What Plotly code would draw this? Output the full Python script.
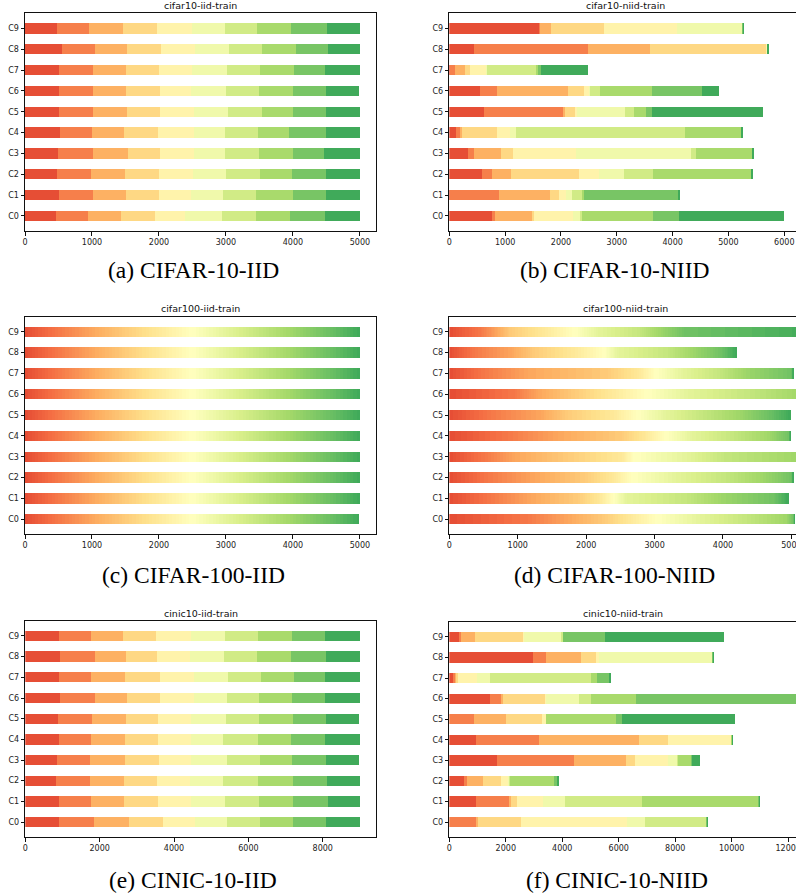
import plotly.graph_objects as go

W, H = 796, 894

CLIENTS = ["C0", "C1", "C2", "C3", "C4", "C5", "C6", "C7", "C8", "C9"]

# rows = clients C0..C9, columns = class index
CIFAR10_IID = [
    [463, 477, 493, 507, 448, 552, 508, 507, 523, 522],
    [507, 508, 492, 493, 478, 477, 493, 552, 492, 508],
    [478, 507, 508, 507, 507, 493, 507, 478, 507, 508],
    [493, 522, 522, 478, 507, 463, 507, 508, 463, 537],
    [522, 478, 478, 507, 537, 463, 493, 462, 552, 508],
    [507, 508, 507, 493, 507, 508, 507, 463, 492, 508],
    [507, 508, 492, 508, 463, 522, 492, 508, 492, 493],
    [507, 508, 492, 493, 488, 527, 492, 508, 463, 522],
    [552, 493, 477, 508, 507, 508, 492, 508, 477, 478],
    [473, 482, 508, 507, 518, 497, 478, 507, 537, 493],
]

CIFAR10_NIID = [
    [764, 54, 663, 36, 698, 143, 18, 1272, 466, 1880],
    [12, 878, 913, 161, 125, 107, 197, 18, 1701, 12],
    [585, 179, 340, 1218, 358, 448, 519, 1773, 3, 9],
    [334, 107, 484, 215, 1128, 2060, 90, 1021, 3, 9],
    [119, 72, 36, 627, 233, 107, 3027, 1021, 3, 9],
    [621, 1433, 10, 205, 10, 877, 161, 215, 90, 1988],
    [549, 305, 1271, 287, 107, 10, 169, 932, 895, 305],
    [12, 88, 181, 89, 305, 5, 896, 30, 30, 845],
    [442, 2042, 1110, 2101, 2, 1, 3, 2, 2, 15],
    [1612, 13, 196, 949, 1308, 1182, 3, 2, 4, 15],
]

CIFAR100_IID = [
    [50, 50, 50, 50, 50, 50, 50, 50, 50, 50, 50, 50, 50, 50, 50, 50, 50, 50, 50, 50, 50, 50, 50, 50, 50, 50, 50, 50, 50, 50, 50, 50, 50, 50, 50, 50, 50, 50, 50, 50, 50, 50, 50, 50, 50, 50, 50, 50, 50, 50, 50, 50, 50, 50, 50, 50, 50, 50, 50, 50, 50, 50, 50, 50, 50, 50, 50, 50, 50, 50, 50, 50, 50, 50, 50, 50, 50, 50, 50, 50, 50, 50, 50, 50, 50, 50, 50, 50, 50, 50, 50, 50, 50, 50, 50, 50, 50, 50, 50, 35],
    [50, 50, 50, 50, 50, 50, 50, 50, 50, 50, 50, 50, 50, 50, 50, 50, 50, 50, 50, 50, 50, 50, 50, 50, 50, 50, 50, 50, 50, 50, 50, 50, 50, 50, 50, 50, 50, 50, 50, 50, 50, 50, 50, 50, 50, 50, 50, 50, 50, 50, 50, 50, 50, 50, 50, 50, 50, 50, 50, 50, 50, 50, 50, 50, 50, 50, 50, 50, 50, 50, 50, 50, 50, 50, 50, 50, 50, 50, 50, 50, 50, 50, 50, 50, 50, 50, 50, 50, 50, 50, 50, 50, 50, 50, 50, 50, 50, 50, 50, 50],
    [50, 50, 50, 50, 50, 50, 50, 50, 50, 50, 50, 50, 50, 50, 50, 50, 50, 50, 50, 50, 50, 50, 50, 50, 50, 50, 50, 50, 50, 50, 50, 50, 50, 50, 50, 50, 50, 50, 50, 50, 50, 50, 50, 50, 50, 50, 50, 50, 50, 50, 50, 50, 50, 50, 50, 50, 50, 50, 50, 50, 50, 50, 50, 50, 50, 50, 50, 50, 50, 50, 50, 50, 50, 50, 50, 50, 50, 50, 50, 50, 50, 50, 50, 50, 50, 50, 50, 50, 50, 50, 50, 50, 50, 50, 50, 50, 50, 50, 50, 50],
    [50, 50, 50, 50, 50, 50, 50, 50, 50, 50, 50, 50, 50, 50, 50, 50, 50, 50, 50, 50, 50, 50, 50, 50, 50, 50, 50, 50, 50, 50, 50, 50, 50, 50, 50, 50, 50, 50, 50, 50, 50, 50, 50, 50, 50, 50, 50, 50, 50, 50, 50, 50, 50, 50, 50, 50, 50, 50, 50, 50, 50, 50, 50, 50, 50, 50, 50, 50, 50, 50, 50, 50, 50, 50, 50, 50, 50, 50, 50, 50, 50, 50, 50, 50, 50, 50, 50, 50, 50, 50, 50, 50, 50, 50, 50, 50, 50, 50, 50, 50],
    [50, 50, 50, 50, 50, 50, 50, 50, 50, 50, 50, 50, 50, 50, 50, 50, 50, 50, 50, 50, 50, 50, 50, 50, 50, 50, 50, 50, 50, 50, 50, 50, 50, 50, 50, 50, 50, 50, 50, 50, 50, 50, 50, 50, 50, 50, 50, 50, 50, 50, 50, 50, 50, 50, 50, 50, 50, 50, 50, 50, 50, 50, 50, 50, 50, 50, 50, 50, 50, 50, 50, 50, 50, 50, 50, 50, 50, 50, 50, 50, 50, 50, 50, 50, 50, 50, 50, 50, 50, 50, 50, 50, 50, 50, 50, 50, 50, 50, 50, 50],
    [50, 50, 50, 50, 50, 50, 50, 50, 50, 50, 50, 50, 50, 50, 50, 50, 50, 50, 50, 50, 50, 50, 50, 50, 50, 50, 50, 50, 50, 50, 50, 50, 50, 50, 50, 50, 50, 50, 50, 50, 50, 50, 50, 50, 50, 50, 50, 50, 50, 50, 50, 50, 50, 50, 50, 50, 50, 50, 50, 50, 50, 50, 50, 50, 50, 50, 50, 50, 50, 50, 50, 50, 50, 50, 50, 50, 50, 50, 50, 50, 50, 50, 50, 50, 50, 50, 50, 50, 50, 50, 50, 50, 50, 50, 50, 50, 50, 50, 50, 50],
    [50, 50, 50, 50, 50, 50, 50, 50, 50, 50, 50, 50, 50, 50, 50, 50, 50, 50, 50, 50, 50, 50, 50, 50, 50, 50, 50, 50, 50, 50, 50, 50, 50, 50, 50, 50, 50, 50, 50, 50, 50, 50, 50, 50, 50, 50, 50, 50, 50, 50, 50, 50, 50, 50, 50, 50, 50, 50, 50, 50, 50, 50, 50, 50, 50, 50, 50, 50, 50, 50, 50, 50, 50, 50, 50, 50, 50, 50, 50, 50, 50, 50, 50, 50, 50, 50, 50, 50, 50, 50, 50, 50, 50, 50, 50, 50, 50, 50, 50, 50],
    [50, 50, 50, 50, 50, 50, 50, 50, 50, 50, 50, 50, 50, 50, 50, 50, 50, 50, 50, 50, 50, 50, 50, 50, 50, 50, 50, 50, 50, 50, 50, 50, 50, 50, 50, 50, 50, 50, 50, 50, 50, 50, 50, 50, 50, 50, 50, 50, 50, 50, 50, 50, 50, 50, 50, 50, 50, 50, 50, 50, 50, 50, 50, 50, 50, 50, 50, 50, 50, 50, 50, 50, 50, 50, 50, 50, 50, 50, 50, 50, 50, 50, 50, 50, 50, 50, 50, 50, 50, 50, 50, 50, 50, 50, 50, 50, 50, 50, 50, 50],
    [50, 50, 50, 50, 50, 50, 50, 50, 50, 50, 50, 50, 50, 50, 50, 50, 50, 50, 50, 50, 50, 50, 50, 50, 50, 50, 50, 50, 50, 50, 50, 50, 50, 50, 50, 50, 50, 50, 50, 50, 50, 50, 50, 50, 50, 50, 50, 50, 50, 50, 50, 50, 50, 50, 50, 50, 50, 50, 50, 50, 50, 50, 50, 50, 50, 50, 50, 50, 50, 50, 50, 50, 50, 50, 50, 50, 50, 50, 50, 50, 50, 50, 50, 50, 50, 50, 50, 50, 50, 50, 50, 50, 50, 50, 50, 50, 50, 50, 50, 50],
    [50, 50, 50, 50, 50, 50, 50, 50, 50, 50, 50, 50, 50, 50, 50, 50, 50, 50, 50, 50, 50, 50, 50, 50, 50, 50, 50, 50, 50, 50, 50, 50, 50, 50, 50, 50, 50, 50, 50, 50, 50, 50, 50, 50, 50, 50, 50, 50, 50, 50, 50, 50, 50, 50, 50, 50, 50, 50, 50, 50, 50, 50, 50, 50, 50, 50, 50, 50, 50, 50, 50, 50, 50, 50, 50, 50, 50, 50, 50, 50, 50, 50, 50, 50, 50, 50, 50, 50, 50, 50, 50, 50, 50, 50, 50, 50, 50, 50, 50, 50],
]

CIFAR100_NIID = [
    [115, 115, 115, 115, 115, 115, 115, 115, 115, 115, 59, 59, 59, 59, 59, 59, 59, 59, 59, 59, 54, 54, 54, 54, 54, 54, 54, 54, 54, 54, 37, 37, 37, 37, 37, 37, 37, 37, 37, 37, 39, 39, 39, 39, 39, 39, 39, 39, 39, 39, 63, 63, 63, 63, 63, 63, 63, 63, 63, 63, 68, 68, 68, 68, 68, 68, 68, 68, 68, 68, 59, 59, 59, 59, 59, 59, 59, 59, 59, 59, 10, 10, 10, 10, 10, 10, 10, 10, 10, 10, 1, 1, 1, 1, 1, 1, 1, 1, 1, 1],
    [61, 61, 61, 61, 61, 61, 61, 61, 61, 61, 59, 59, 59, 59, 59, 59, 59, 59, 59, 59, 68, 68, 68, 68, 68, 68, 68, 68, 68, 68, 34, 34, 34, 34, 34, 34, 34, 34, 34, 34, 20, 20, 20, 20, 20, 20, 20, 20, 20, 20, 18, 18, 18, 18, 18, 18, 18, 18, 18, 18, 88, 88, 88, 88, 88, 88, 88, 88, 88, 88, 49, 49, 49, 49, 49, 49, 49, 49, 49, 49, 78, 78, 78, 78, 78, 78, 78, 78, 78, 78, 21, 21, 21, 21, 21, 21, 21, 21, 21, 21],
    [57, 57, 57, 57, 57, 57, 57, 57, 57, 57, 68, 68, 68, 68, 68, 68, 68, 68, 68, 68, 73, 73, 73, 73, 73, 73, 73, 73, 73, 73, 44, 44, 44, 44, 44, 44, 44, 44, 44, 44, 27, 27, 27, 27, 27, 27, 27, 27, 27, 27, 63, 63, 63, 63, 63, 63, 63, 63, 63, 63, 73, 73, 73, 73, 73, 73, 73, 73, 73, 73, 54, 54, 54, 54, 54, 54, 54, 54, 54, 54, 42, 42, 42, 42, 42, 42, 42, 42, 42, 42, 2, 2, 2, 2, 2, 2, 2, 2, 2, 2],
    [52, 52, 52, 52, 52, 52, 52, 52, 52, 52, 44, 44, 44, 44, 44, 44, 44, 44, 44, 44, 78, 78, 78, 78, 78, 78, 78, 78, 78, 78, 80, 80, 80, 80, 80, 80, 80, 80, 80, 80, 18, 18, 18, 18, 18, 18, 18, 18, 18, 18, 76, 76, 76, 76, 76, 76, 76, 76, 76, 76, 54, 54, 54, 54, 54, 54, 54, 54, 54, 54, 109, 109, 109, 109, 109, 109, 109, 109, 109, 109, 2, 2, 2, 2, 2, 2, 2, 2, 2, 2, 2, 2, 2, 2, 2, 2, 2, 2, 2, 2],
    [86, 86, 86, 86, 86, 86, 86, 86, 86, 86, 73, 73, 73, 73, 73, 73, 73, 73, 73, 73, 93, 93, 93, 93, 93, 93, 93, 93, 93, 93, 37, 37, 37, 37, 37, 37, 37, 37, 37, 37, 29, 29, 29, 29, 29, 29, 29, 29, 29, 29, 37, 37, 37, 37, 37, 37, 37, 37, 37, 37, 61, 61, 61, 61, 61, 61, 61, 61, 61, 61, 54, 54, 54, 54, 54, 54, 54, 54, 54, 54, 27, 27, 27, 27, 27, 27, 27, 27, 27, 27, 2, 2, 2, 2, 2, 2, 2, 2, 2, 2],
    [61, 61, 61, 61, 61, 61, 61, 61, 61, 61, 73, 73, 73, 73, 73, 73, 73, 73, 73, 73, 39, 39, 39, 39, 39, 39, 39, 39, 39, 39, 68, 68, 68, 68, 68, 68, 68, 68, 68, 68, 35, 35, 35, 35, 35, 35, 35, 35, 35, 35, 41, 41, 41, 41, 41, 41, 41, 41, 41, 41, 54, 54, 54, 54, 54, 54, 54, 54, 54, 54, 54, 54, 54, 54, 54, 54, 54, 54, 54, 54, 39, 39, 39, 39, 39, 39, 39, 39, 39, 39, 35, 35, 35, 35, 35, 35, 35, 35, 35, 35],
    [96, 96, 96, 96, 96, 96, 96, 96, 96, 96, 34, 34, 34, 34, 34, 34, 34, 34, 34, 34, 54, 54, 54, 54, 54, 54, 54, 54, 54, 54, 54, 54, 54, 54, 54, 54, 54, 54, 54, 54, 52, 52, 52, 52, 52, 52, 52, 52, 52, 52, 59, 59, 59, 59, 59, 59, 59, 59, 59, 59, 90, 90, 90, 90, 90, 90, 90, 90, 90, 90, 78, 78, 78, 78, 78, 78, 78, 78, 78, 78, 5, 5, 5, 5, 5, 5, 5, 5, 5, 5, 5, 5, 5, 5, 5, 5, 5, 5, 5, 5],
    [52, 52, 52, 52, 52, 52, 52, 52, 52, 52, 63, 63, 63, 63, 63, 63, 63, 63, 63, 63, 117, 117, 117, 117, 117, 117, 117, 117, 117, 117, 47, 47, 47, 47, 47, 47, 47, 47, 47, 47, 24, 24, 24, 24, 24, 24, 24, 24, 24, 24, 39, 39, 39, 39, 39, 39, 39, 39, 39, 39, 54, 54, 54, 54, 54, 54, 54, 54, 54, 54, 37, 37, 37, 37, 37, 37, 37, 37, 37, 37, 68, 68, 68, 68, 68, 68, 68, 68, 68, 68, 2, 2, 2, 2, 2, 2, 2, 2, 2, 2],
    [37, 37, 37, 37, 37, 37, 37, 37, 37, 37, 54, 54, 54, 54, 54, 54, 54, 54, 54, 54, 34, 34, 34, 34, 34, 34, 34, 34, 34, 34, 59, 59, 59, 59, 59, 59, 59, 59, 59, 59, 44, 44, 44, 44, 44, 44, 44, 44, 44, 44, 20, 20, 20, 20, 20, 20, 20, 20, 20, 20, 71, 71, 71, 71, 71, 71, 71, 71, 71, 71, 37, 37, 37, 37, 37, 37, 37, 37, 37, 37, 41, 41, 41, 41, 41, 41, 41, 41, 41, 41, 24, 24, 24, 24, 24, 24, 24, 24, 24, 24],
    [47, 47, 47, 47, 47, 47, 47, 47, 47, 47, 24, 24, 24, 24, 24, 24, 24, 24, 24, 24, 20, 20, 20, 20, 20, 20, 20, 20, 20, 20, 49, 49, 49, 49, 49, 49, 49, 49, 49, 49, 44, 44, 44, 44, 44, 44, 44, 44, 44, 44, 34, 34, 34, 34, 34, 34, 34, 34, 34, 34, 62, 62, 62, 62, 62, 62, 62, 62, 62, 62, 29, 29, 29, 29, 29, 29, 29, 29, 29, 29, 34, 34, 34, 34, 34, 34, 34, 34, 34, 34, 198, 198, 198, 198, 198, 198, 198, 198, 198, 198],
]

CINIC10_IID = [
    [906, 942, 941, 915, 861, 861, 888, 888, 888, 910],
    [906, 861, 888, 915, 888, 914, 915, 915, 942, 856],
    [825, 915, 915, 888, 888, 888, 941, 942, 915, 883],
    [852, 888, 942, 915, 861, 968, 888, 861, 915, 888],
    [906, 861, 915, 888, 888, 861, 941, 888, 915, 937],
    [879, 915, 915, 861, 888, 942, 887, 915, 888, 888],
    [933, 941, 862, 887, 915, 888, 861, 888, 888, 937],
    [906, 861, 915, 941, 915, 915, 888, 888, 834, 937],
    [933, 941, 835, 834, 888, 914, 888, 915, 942, 910],
    [906, 861, 861, 888, 942, 914, 888, 915, 888, 937],
]

CINIC10_NIID = [
    [0, 944, 71, 1523, 3754, 638, 2196, 5, 5, 14],
    [944, 1169, 71, 212, 921, 779, 2727, 4144, 12, 12],
    [519, 106, 567, 638, 283, 35, 5, 1553, 142, 24],
    [1688, 2727, 1842, 319, 1169, 344, 5, 496, 5, 283],
    [944, 2231, 3542, 1027, 2267, 5, 5, 5, 5, 4],
    [0, 875, 1133, 1275, 142, 0, 0, 2479, 212, 4002],
    [1440, 425, 35, 1523, 5, 1164, 425, 1594, 6200, 300],
    [130, 71, 71, 35, 673, 460, 3578, 212, 461, 23],
    [2963, 461, 1239, 532, 106, 4037, 5, 5, 4, 10],
    [342, 71, 496, 1736, 5, 1329, 47, 0, 1487, 4215],
]

TITLES = ["cifar10-iid-train", "cifar10-niid-train", "cifar100-iid-train",
          "cifar100-niid-train", "cinic10-iid-train", "cinic10-niid-train"]
CAPTIONS = ["(a) CIFAR-10-IID", "(b) CIFAR-10-NIID", "(c) CIFAR-100-IID",
            "(d) CIFAR-100-NIID", "(e) CINIC-10-IID", "(f) CINIC-10-NIID"]

RDYLGN = [(165, 0, 38), (215, 48, 39), (244, 109, 67), (253, 174, 97), (254, 224, 139),
          (255, 255, 191), (217, 239, 139), (166, 217, 106), (102, 189, 99), (26, 152, 80),
          (0, 104, 55)]


def cmap(t):
    p = t * 10
    i = min(int(p), 9)
    f = p - i
    a, b = RDYLGN[i], RDYLGN[i + 1]
    return "rgb(%d,%d,%d)" % tuple(round(a[k] + (b[k] - a[k]) * f) for k in range(3))


def palette(n):
    return [cmap(0.15 + 0.7 * i / (n - 1)) for i in range(n)]


# layout in pixels: (x0, x1, y_top, y_bottom, xmax, dtick, title_x, title_y, cap_x, cap_y, right_spine)
PANELS = [
    (CIFAR10_IID, 25, 376, 13.3, 231, 5240, 1000, 200.5, 5.7, 193, 270, True),
    (CIFAR10_NIID, 449.3, 796, 13.3, 231, 6210, 1000, 625, 5.7, 615, 270, False),
    (CIFAR100_IID, 25, 376, 316.7, 534.3, 5240, 1000, 200.5, 308.3, 193, 575, True),
    (CIFAR100_NIID, 449.3, 796, 316.7, 534.3, 5067, 1000, 625, 308.3, 614, 575, False),
    (CINIC10_IID, 25.3, 376, 621, 837, 9433, 2000, 200.5, 613, 193, 880, True),
    (CINIC10_NIID, 449.3, 796, 622, 837, 12277, 2000, 623, 613, 617, 880, False),
]

fig = go.Figure()
layout = dict(
    width=W, height=H, margin=dict(l=0, r=0, t=0, b=0, autoexpand=False),
    paper_bgcolor="white", plot_bgcolor="white", barmode="stack",
    showlegend=False, annotations=[],
)

tickfont = dict(family="DejaVu Sans", size=8, color="#222")

for n, (data, x0, x1, yt, yb, xmax, dtick, tx, ty, cx, cy, rspine) in enumerate(PANELS, start=1):
    sfx = "" if n == 1 else str(n)
    ncls = len(data[0])
    cols = palette(ncls)
    for j in range(ncls):
        fig.add_trace(go.Bar(
            x=[row[j] for row in data], y=CLIENTS, orientation="h", width=0.5,
            marker=dict(color=cols[j], line=dict(width=0)),
            xaxis="x" + sfx, yaxis="y" + sfx, hoverinfo="skip", showlegend=False,
        ))
    layout["xaxis" + sfx] = dict(
        domain=[x0 / W, min(x1 / W, 1.0)], range=[0, xmax], anchor="y" + sfx,
        showline=True, linecolor="#111", linewidth=1, mirror=True,
        ticks="outside", ticklen=3.5, tickwidth=1, tickcolor="#111",
        tickfont=tickfont, showgrid=False, zeroline=False, dtick=dtick, tick0=0,
        tickformat="d", automargin=False, fixedrange=True, ticklabeloverflow="allow",
    )
    layout["yaxis" + sfx] = dict(
        domain=[1 - yb / H, 1 - yt / H], range=[-0.725, 9.725], anchor="x" + sfx,
        type="category", categoryorder="array", categoryarray=CLIENTS,
        showline=True, linecolor="#111", linewidth=1, mirror=rspine,
        ticks="outside", ticklen=3.5, tickwidth=1, tickcolor="#111",
        tickfont=tickfont, showgrid=False, zeroline=False, automargin=False,
        fixedrange=True,
    )
    layout["annotations"].append(dict(
        text=TITLES[n - 1], x=tx / W, y=1 - ty / H, xref="paper", yref="paper",
        xanchor="center", yanchor="middle", showarrow=False,
        font=dict(family="DejaVu Sans", size=9.5, color="#111"),
    ))
    layout["annotations"].append(dict(
        text=CAPTIONS[n - 1], x=cx / W, y=1 - cy / H, xref="paper", yref="paper",
        xanchor="center", yanchor="middle", showarrow=False,
        font=dict(family="Liberation Serif", size=23.5, color="#000"),
    ))

fig.update_layout(**layout)
fig.write_html(
    "out.html",
    config={"displayModeBar": False},
    post_script="document.body.style.margin='0';document.body.style.overflow='hidden';",
)
